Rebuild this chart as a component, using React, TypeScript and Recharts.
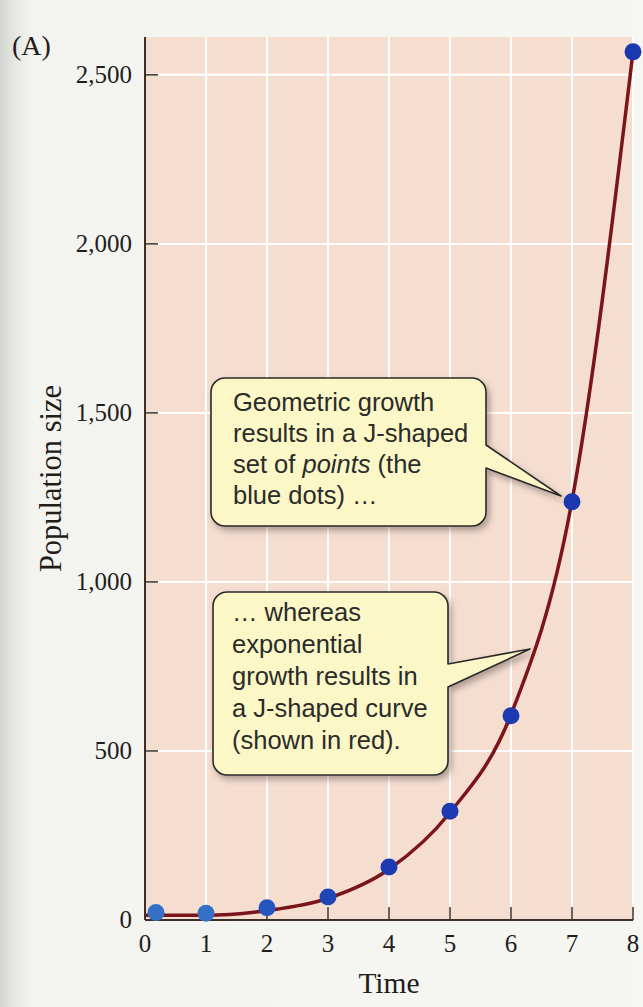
import React from 'react';
import {
  ComposedChart,
  Line,
  Scatter,
  XAxis,
  YAxis,
  CartesianGrid,
  Cell,
} from 'recharts';

// Axis ticks
const timeTicks = [0, 1, 2, 3, 4, 5, 6, 7, 8];
const popTicks = [0, 500, 1000, 1500, 2000, 2500];

// Geometric growth: blue dots
const dotTimes = [0.18, 1, 2, 3, 4, 5, 6, 7, 8];
const dotSizes = [22, 20, 36, 68, 157, 322, 604, 1237, 2568];

// Exponential growth: red curve
const curveTimes = [0, 1, 2, 3, 4, 5, 6, 7, 8];
const curveSizes = [14, 14, 28, 64, 150, 318, 608, 1240, 2568];

const dotColors = ['#3470c6', '#3470c6', '#2656bd', '#1f45b6', '#1c3bb2', '#1c3bb2', '#1c3ab1', '#1b38b0', '#1b38b0'];

const dotData = dotTimes.map((t, i) => ({ t, n: dotSizes[i] }));
const curveData = curveTimes.map((t, i) => ({ t, n: curveSizes[i] }));

const AXIS = '#3b3029';
const INK = '#231d1a';
const SERIF = '"Liberation Serif", "Times New Roman", serif';
const SANS = '"Liberation Sans", Arial, Helvetica, sans-serif';
const TICK_FS = 25;

const fmt = (v: number) => v.toLocaleString('en-US');

const Dot = (props: any) => {
  const { cx, cy, fill } = props;
  if (cx == null || cy == null) return null;
  return <circle cx={cx} cy={cy} r={8.5} fill={fill} />;
};

const XTick = (props: any) => {
  const { x, y, payload } = props;
  return (
    <text
      x={x}
      y={y}
      dy="0.72em"
      textAnchor="middle"
      fontFamily={SERIF}
      fontSize={TICK_FS}
      fill={INK}
    >
      {fmt(payload.value)}
    </text>
  );
};

const YTick = (props: any) => {
  const { x, y, payload } = props;
  return (
    <text
      x={x}
      y={y}
      dy="0.33em"
      textAnchor="end"
      fontFamily={SERIF}
      fontSize={TICK_FS}
      fill={INK}
    >
      {fmt(payload.value)}
    </text>
  );
};

export default function App() {
  return (
    <div
      style={{
        position: 'absolute',
        left: 0,
        top: 0,
        width: 643,
        height: 1007,
        background:
          'linear-gradient(to right, #d4d4d2 0px, #e6e6e3 14px, #f3f3f0 34px, #f6f6f3 100%)',
        overflow: 'hidden',
      }}
    >
      <ComposedChart
        width={643}
        height={1007}
        margin={{ top: 37, right: 10, bottom: 0, left: 0 }}
      >
        <CartesianGrid
          fill="#f5ded0"
          fillOpacity={1}
          stroke="#ffffff"
          strokeWidth={2}
          horizontalValues={popTicks}
          verticalValues={timeTicks}
        />
        <XAxis
          dataKey="t"
          type="number"
          domain={[0, 8]}
          ticks={timeTicks}
          height={87}
          tickSize={-13}
          tickMargin={27}
          axisLine={{ stroke: AXIS, strokeWidth: 2 }}
          tickLine={{ stroke: AXIS, strokeWidth: 1.5 }}
          tick={<XTick />}
          label={{
            value: 'Time',
            position: 'insideBottom',
            offset: 14,
            style: { fill: INK, fontSize: 29.5, fontFamily: SERIF },
          }}
        />
        <YAxis
          type="number"
          domain={[0, 2612]}
          ticks={popTicks}
          width={145}
          tickSize={-13}
          tickMargin={26}
          axisLine={{ stroke: AXIS, strokeWidth: 2 }}
          tickLine={{ stroke: AXIS, strokeWidth: 1.5 }}
          tick={<YTick />}
          label={{
            value: 'Population size',
            angle: -90,
            position: 'insideLeft',
            offset: 50,
            style: { fill: INK, fontSize: 30.5, fontFamily: SERIF, textAnchor: 'middle' },
          }}
        />
        <Line
          data={curveData}
          dataKey="n"
          type="monotone"
          stroke="#7c1519"
          strokeWidth={3.5}
          dot={false}
          activeDot={false}
          isAnimationActive={false}
        />
        <Scatter data={dotData} dataKey="n" shape={<Dot />} isAnimationActive={false}>
          {dotData.map((d, i) => (
            <Cell key={i} fill={dotColors[i]} />
          ))}
        </Scatter>
      </ComposedChart>

      <svg
        width={643}
        height={1007}
        style={{ position: 'absolute', left: 0, top: 0, pointerEvents: 'none' }}
      >
        <defs>
          <filter id="shadow" x="-10%" y="-10%" width="130%" height="130%">
            <feDropShadow dx="3" dy="4" stdDeviation="3" floodColor="#5a4a44" floodOpacity="0.45" />
          </filter>
        </defs>
        <text x={12} y={55} fontFamily={SERIF} fontSize={28} fill={INK}>
          (A)
        </text>

        <path
          d="M225,378 H472 A14,14 0 0 1 486,392 V445 L561,496 L486,468 V512 A14,14 0 0 1 472,526 H225 A14,14 0 0 1 211,512 V392 A14,14 0 0 1 225,378 Z"
          fill="#fbf7c6"
          stroke="#2a2a2a"
          strokeWidth={1.6}
          strokeLinejoin="round"
          filter="url(#shadow)"
        />
        <g fontFamily={SANS} fontSize={25.5} fill="#2b2b2b">
          <text x={233} y={411}>Geometric growth</text>
          <text x={233} y={442}>results in a J-shaped</text>
          <text x={233} y={473}>
            set of <tspan fontStyle="italic">points</tspan> (the
          </text>
          <text x={233} y={504}>blue dots) …</text>
        </g>

        <path
          d="M227,592 H434 A14,14 0 0 1 448,606 V664 L530,649 L448,687 V761 A14,14 0 0 1 434,775 H227 A14,14 0 0 1 213,761 V606 A14,14 0 0 1 227,592 Z"
          fill="#fbf7c6"
          stroke="#2a2a2a"
          strokeWidth={1.6}
          strokeLinejoin="round"
          filter="url(#shadow)"
        />
        <g fontFamily={SANS} fontSize={25.5} fill="#2b2b2b">
          <text x={232} y={621}>… whereas</text>
          <text x={232} y={653}>exponential</text>
          <text x={232} y={685}>growth results in</text>
          <text x={232} y={717}>a J-shaped curve</text>
          <text x={232} y={749}>(shown in red).</text>
        </g>
      </svg>
    </div>
  );
}
